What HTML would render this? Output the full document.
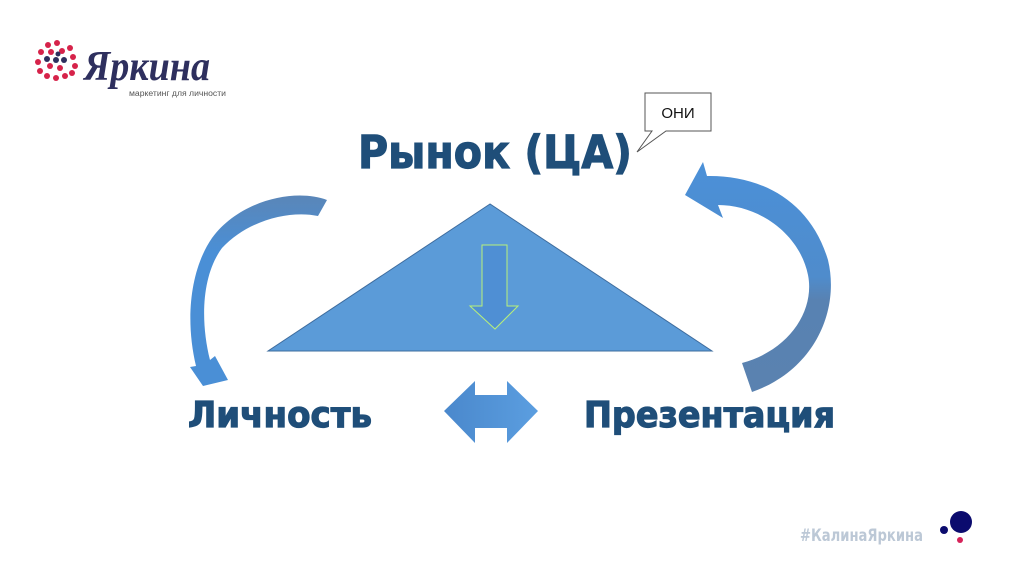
<!DOCTYPE html>
<html><head><meta charset="utf-8"><style>
html,body{margin:0;padding:0;background:#fff;width:1024px;height:574px;overflow:hidden}
</style></head><body>
<svg width="1024" height="574" viewBox="0 0 1024 574" xmlns="http://www.w3.org/2000/svg">
<defs>
<linearGradient id="g1" x1="0" y1="0" x2="0" y2="1"><stop offset="0" stop-color="#5a86b8"/><stop offset="0.3" stop-color="#4a8fd6"/><stop offset="1" stop-color="#4a8fd6"/></linearGradient>
<linearGradient id="g2" x1="0" y1="0" x2="0" y2="1"><stop offset="0" stop-color="#4b90d8"/><stop offset="0.5" stop-color="#4f8ccc"/><stop offset="0.6" stop-color="#5882b2"/><stop offset="1" stop-color="#5a82b0"/></linearGradient>
<linearGradient id="g3" x1="0" y1="0" x2="1" y2="0"><stop offset="0" stop-color="#4a88cc"/><stop offset="1" stop-color="#5b9ee0"/></linearGradient>
</defs>
<!-- logo -->
<g fill="#d6234a">
<circle cx="48" cy="45" r="3"/><circle cx="57" cy="43" r="3"/><circle cx="41" cy="52" r="3"/><circle cx="51" cy="52" r="3"/><circle cx="62" cy="51" r="3"/><circle cx="70" cy="48" r="3"/>
<circle cx="38" cy="62" r="3"/><circle cx="73" cy="57" r="3"/><circle cx="75" cy="66" r="3"/><circle cx="40" cy="71" r="3"/><circle cx="47" cy="76" r="3"/><circle cx="56" cy="78" r="3"/><circle cx="65" cy="76" r="3"/><circle cx="72" cy="73" r="3"/><circle cx="60" cy="68" r="3"/><circle cx="50" cy="66" r="3"/>
</g>
<g fill="#2e2f5e"><circle cx="47" cy="59" r="3"/><circle cx="56" cy="60" r="3"/><circle cx="64" cy="60" r="3"/><circle cx="58" cy="54" r="2.5"/></g>
<text x="84" y="80" font-family="'Liberation Serif','DejaVu Serif',serif" font-style="italic" font-weight="bold" font-size="42" fill="#2e2f5e" textLength="126" lengthAdjust="spacingAndGlyphs">Яркина</text>
<text x="129" y="96" font-family="'Liberation Sans',sans-serif" font-size="8" fill="#555" textLength="97" lengthAdjust="spacingAndGlyphs">маркетинг для личности</text>
<!-- triangle -->
<polygon points="490,204 268,351 712,351" fill="#5b9bd8" stroke="#3e6c9e" stroke-width="1"/>
<polygon points="482,245 507,245 507,306 518,306 495,329 470,306 482,306" fill="#4f8fd4" stroke="#b8f07a" stroke-width="1"/>
<!-- double arrow -->
<polygon points="444,411 475,381 475,395 507,395 507,381 538,411 507,443 507,428 475,428 475,443" fill="url(#g3)"/>
<!-- left curved arrow -->
<path d="M327,200 C295,188 240,200 212,238 C190,270 185,320 196,366 L190,367 L203,386 L228,380 L215,356 L210,360 C200,320 202,275 222,248 C248,220 290,210 318,216 Z" fill="url(#g1)"/>
<!-- right curved arrow -->
<path d="M685,195 L703,162 L707,176 C760,175 810,200 828,260 C840,310 815,370 752,392 L742,363 C790,350 815,310 808,275 C800,235 760,205 718,205 L723,218 Z" fill="url(#g2)"/>
<!-- bubble -->
<path d="M645,93 H711 V131 H666 L637,152 L652,131 H645 Z" fill="#fff" stroke="#555" stroke-width="1"/>
<text x="678" y="118" text-anchor="middle" font-family="'Liberation Sans',sans-serif" font-size="15" fill="#111">ОНИ</text>
<!-- texts -->
<g font-family="'DejaVu Sans','Liberation Sans',sans-serif" font-weight="bold" fill="#1f4e79" stroke="#1f4e79" stroke-width="1.2">
<text x="358" y="168" font-size="45" textLength="274" lengthAdjust="spacingAndGlyphs">Рынок (ЦА)</text>
<text x="188" y="427" font-size="36" textLength="184" lengthAdjust="spacingAndGlyphs">Личность</text>
<text x="584" y="427" font-size="36" textLength="251" lengthAdjust="spacingAndGlyphs">Презентация</text>
</g>
<text x="800" y="541" font-family="'DejaVu Sans','Liberation Sans',sans-serif" font-weight="bold" font-size="17" fill="#bcc8d6" textLength="123" lengthAdjust="spacingAndGlyphs">#КалинаЯркина</text>
<circle cx="961" cy="522" r="11" fill="#0b0b6e"/><circle cx="944" cy="530" r="4" fill="#0b0b6e"/><circle cx="960" cy="540" r="3" fill="#d6235a"/>
</svg>
</body></html>
